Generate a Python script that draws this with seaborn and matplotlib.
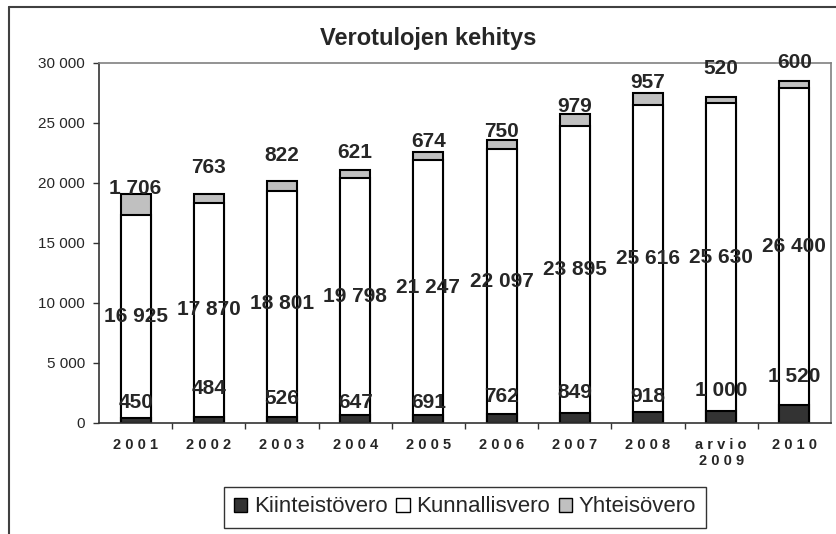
import seaborn as sns
import pandas as pd
import matplotlib.pyplot as plt

from matplotlib.lines import Line2D
from matplotlib.patches import Patch
from matplotlib.ticker import FuncFormatter, MultipleLocator, FixedLocator

years = ["2001", "2002", "2003", "2004", "2005", "2006", "2007", "2008", "arvio\n2009", "2010"]
kiinteisto = [450, 484, 526, 647, 691, 762, 849, 918, 1000, 1520]
kunnallis = [16925, 17870, 18801, 19798, 21247, 22097, 23895, 25616, 25630, 26400]
yhteiso = [1706, 763, 822, 621, 674, 750, 979, 957, 520, 600]

# hand-placed label nudges (pixels), like the moved labels in the original
low_nudge = [20, 35, 24, 20, 20, 26, 31, 27, 32, 46]
top_nudge = [6, 26, 26, 18, 10, 8, 8, 11, 29, 18]

df = pd.DataFrame({"year": years, "kiint": kiinteisto, "kunn": kunnallis, "yht": yhteiso})
df["lower"] = df["kiint"] + df["kunn"]
df["total"] = df["lower"] + df["yht"]

sns.set_style("white")
plt.rcParams["font.family"] = ["Liberation Sans", "DejaVu Sans"]

fig = plt.figure(figsize=(8.36, 5.34), dpi=100)
ax = fig.add_axes([99 / 836, 1 - 423 / 534, 732 / 836, 360 / 534])

dark, light = "#333333", "#c0c0c0"
bar_kw = dict(width=0.41, edgecolor="black", linewidth=1.5, saturation=1, ax=ax)
sns.barplot(data=df, x="year", y="total", color=light, **bar_kw)
sns.barplot(data=df, x="year", y="lower", color="white", **bar_kw)
sns.barplot(data=df, x="year", y="kiint", color=dark, **bar_kw)


def fmt(v):
    return f"{int(v):,}".replace(",", " ")


def spaced(label):
    # wide letter spacing of the category labels
    return "\n".join(" ".join(part) for part in label.split("\n"))


lab_kw = dict(ha="center", va="center", fontsize=15, fontweight="bold", textcoords="offset pixels")
for i, row in df.iterrows():
    ax.annotate(fmt(row.kiint), (i, 0), xytext=(0, low_nudge[i]), **lab_kw)
    ax.annotate(fmt(row.kunn), (i, row.kiint + row.kunn / 2), xytext=(0, 0), **lab_kw)
    ax.annotate(fmt(row.yht), (i, row.total), xytext=(0, top_nudge[i]), annotation_clip=False, **lab_kw)

ax.set_ylim(0, 30000)
ax.set_xlim(-0.5, len(years) - 0.5)
ax.yaxis.set_major_locator(MultipleLocator(5000))
ax.yaxis.set_major_formatter(FuncFormatter(lambda x, pos: fmt(x)))
ax.set_xticks(range(len(years)))
ax.set_xticklabels([spaced(y) for y in years], fontweight="bold", fontsize=10.5)
ax.xaxis.set_minor_locator(FixedLocator([i + 0.5 for i in range(len(years) - 1)]))
ax.tick_params(axis="x", which="major", length=0, pad=11)
ax.tick_params(axis="x", which="minor", length=4, width=1, bottom=True, color="#333333")
ax.tick_params(axis="y", length=4, width=1, left=True, pad=6, labelsize=11, color="#333333")
ax.set_xlabel("")
ax.set_ylabel("")

for side in ["top", "right"]:
    ax.spines[side].set_color("#808080")
    ax.spines[side].set_linewidth(1.2)
for side in ["left", "bottom"]:
    ax.spines[side].set_color("#333333")
    ax.spines[side].set_linewidth(1.2)

fig.text(428 / 836, 1 - 38 / 534, "Verotulojen kehitys", ha="center", va="center",
         fontsize=17, fontweight="bold")

handles = [Patch(facecolor=dark, edgecolor="black", label="Kiinteistövero"),
           Patch(facecolor="white", edgecolor="black", label="Kunnallisvero"),
           Patch(facecolor=light, edgecolor="black", label="Yhteisövero")]
leg = fig.legend(handles=handles, loc="center", bbox_to_anchor=(465 / 836, 1 - 507 / 534),
                 ncol=3, fontsize=16, frameon=True, fancybox=False, edgecolor="black",
                 handlelength=0.6, handleheight=0.6, handletextpad=0.3, columnspacing=0.4,
                 borderpad=0.45)
leg.get_frame().set_linewidth(1.0)

# outer chart-area border (only top and left visible in the source)
fig.add_artist(Line2D([9 / 836, 1], [1 - 7 / 534, 1 - 7 / 534], color="#404040", lw=1.5))
fig.add_artist(Line2D([9 / 836, 9 / 836], [0, 1 - 7 / 534], color="#404040", lw=1.5))

plt.savefig("out.png", dpi=100)
